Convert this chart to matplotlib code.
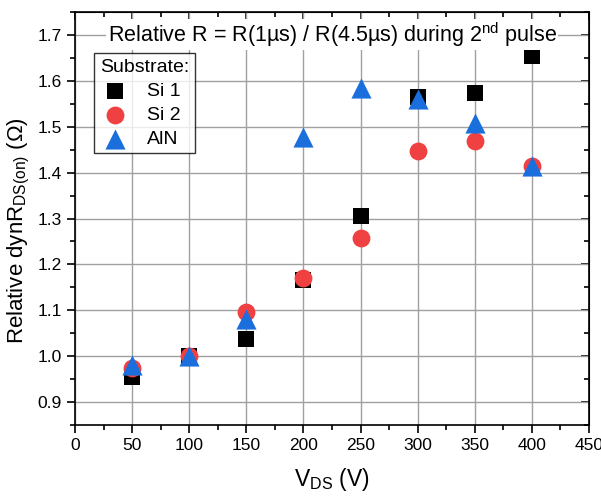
import numpy as np
import matplotlib
matplotlib.use("Agg")
import matplotlib.pyplot as plt
from matplotlib.ticker import MultipleLocator

plt.rcParams['font.family'] = ['Liberation Sans', 'DejaVu Sans']
plt.rcParams['mathtext.fontset'] = 'custom'
plt.rcParams['mathtext.rm'] = 'Liberation Sans'
plt.rcParams['mathtext.it'] = 'Liberation Sans'

vds = [50, 100, 150, 200, 250, 300, 350, 400]
si1 = [0.955, 1.0, 1.038, 1.165, 1.305, 1.565, 1.574, 1.655]
si2 = [0.975, 1.0, 1.096, 1.170, 1.257, 1.448, 1.469, 1.415]
aln = [0.980, 1.0, 1.080, 1.478, 1.584, 1.561, 1.509, 1.415]

fig = plt.figure(figsize=(6.01, 4.96), dpi=100)
ax = fig.add_axes([0.1248, 0.1431, 0.8552, 0.8327])

ax.grid(True, color='#a0a0a0', lw=1.0)
ax.set_axisbelow(True)

ax.scatter(vds, si1, marker='s', s=135, color='black', label='Si 1', zorder=3, linewidths=0)
ax.scatter(vds, si2, marker='o', s=165, color='#EF4141', label='Si 2', zorder=4, linewidths=0)
ax.scatter(vds, aln, marker='^', s=210, color='#1B6FDC', label='AlN', zorder=5, linewidths=0)

ax.set_xlim(0, 450)
ax.set_ylim(0.85, 1.75)
ax.xaxis.set_major_locator(MultipleLocator(50))
ax.xaxis.set_minor_locator(MultipleLocator(25))
ax.yaxis.set_minor_locator(MultipleLocator(0.05))
ax.set_yticks(np.arange(0.9, 1.71, 0.1))
ax.yaxis.set_major_formatter(matplotlib.ticker.FormatStrFormatter('%.1f'))

ax.tick_params(which='both', direction='out', top=False, right=False, labelsize=12.5, width=1.2)
ax.tick_params(which='major', length=6)
ax.tick_params(which='minor', length=3.5)
ax2 = ax.secondary_xaxis('top')
ax2.xaxis.set_major_locator(MultipleLocator(50))
ax2.xaxis.set_minor_locator(MultipleLocator(25))
ax2.tick_params(which='both', direction='in', labeltop=False, width=1.2)
ax2.tick_params(which='major', length=6)
ax2.tick_params(which='minor', length=3.5)
ax3 = ax.secondary_yaxis('right')
ax3.set_yticks(np.arange(0.9, 1.71, 0.1))
ax3.yaxis.set_minor_locator(MultipleLocator(0.05))
ax3.tick_params(which='both', direction='in', labelright=False, width=1.2)
ax3.tick_params(which='major', length=6)
ax3.tick_params(which='minor', length=3.5)

for s in ax.spines.values():
    s.set_linewidth(1.2)

ax.set_xlabel('V$_{\\mathrm{DS}}$ (V)', fontsize=16.5, labelpad=9)
ax.set_ylabel('Relative dynR$_{\\mathrm{DS(on)}}$ (Ω)', fontsize=16, va='center')
ax.yaxis.set_label_coords(-0.11, 0.47)

ax.text(0.5, 0.945, 'Relative R = R(1µs) / R(4.5µs) during 2$^{\\mathrm{nd}}$ pulse',
        transform=ax.transAxes, ha='center', va='center', fontsize=15.5,
        bbox=dict(facecolor='white', edgecolor='none', pad=1), zorder=6)

leg = ax.legend(title='Substrate:', loc='upper left', bbox_to_anchor=(0.037, 0.9),
                fontsize=14, title_fontsize=14, frameon=True, fancybox=False,
                edgecolor='black', handletextpad=0.8, borderpad=0.3,
                labelspacing=0.32, handlelength=1.6, borderaxespad=0)
leg._legend_box.align = 'left'
leg.get_frame().set_linewidth(1.0)

fig.savefig('out.png', dpi=100)
